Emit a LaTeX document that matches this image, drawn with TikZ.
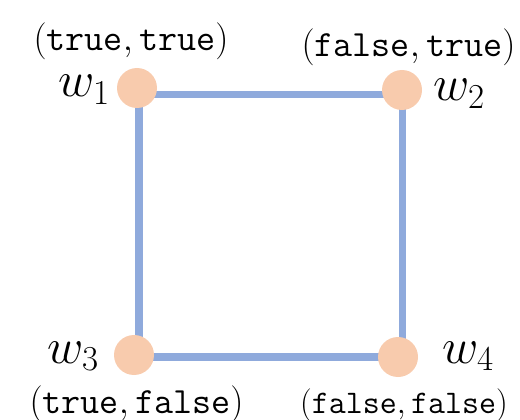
\RequirePackage{fix-cm}
\documentclass[tikz,border=0pt]{standalone}
\definecolor{peach}{HTML}{F8CBAD}
\definecolor{lineblue}{HTML}{8FAADC}
\begin{document}
\begin{tikzpicture}[x=1pt,y=-1pt,
  world/.style={circle,fill=peach,minimum size=40pt,inner sep=0pt},
  edge/.style={draw=lineblue,line width=7.5pt},
  wlab/.style={font=\fontsize{50}{60}\selectfont,inner sep=0pt,anchor=base},
  vlab/.style={font=\fontsize{37}{44}\selectfont,inner sep=0pt,anchor=base},
  vlabsmall/.style={font=\fontsize{33}{40}\selectfont,inner sep=0pt,anchor=base}]
\useasboundingbox (0,0) rectangle (520,420);
\coordinate (c1) at (139,94.5);
\coordinate (c2) at (402.5,94.5);
\coordinate (c3) at (139,357);
\coordinate (c4) at (402.5,357);
\draw[edge] (c1) -- (c2) -- (c4) -- (c3) -- cycle;
\node[world] (w1) at (137,88) {};
\node[world] (w2) at (402,90) {};
\node[world] (w3) at (134,355) {};
\node[world] (w4) at (398,357) {};
\node[wlab] (l1) at (84,97) {$w_1$};
\node[wlab] (l2) at (459,101) {$w_2$};
\node[wlab] (l3) at (73,363) {$w_3$};
\node[wlab] (l4) at (468,363) {$w_4$};
\node[vlab] (v1) at (131,51) {$(\texttt{true},\texttt{true})$};
\node[vlab] (v2) at (408.5,57) {$(\texttt{false},\texttt{true})$};
\node[vlab] (v3) at (136.5,413) {$(\texttt{true},\texttt{false})$};
\node[vlabsmall] (v4) at (404,413) {$(\texttt{false},\texttt{false})$};
\end{tikzpicture}
\end{document}
